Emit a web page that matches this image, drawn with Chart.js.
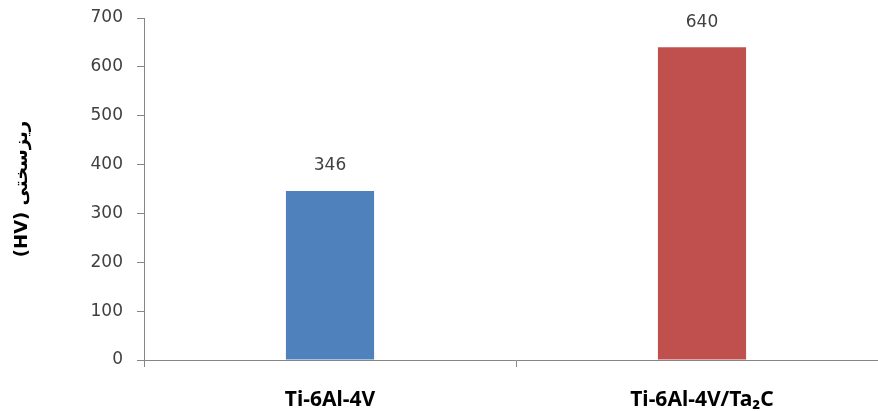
<!DOCTYPE html>
<html lang="fa">
<head>
  <meta charset="UTF-8">
  <title>Microhardness</title>
  <style>
    html, body { margin: 0; padding: 0; background: #fff; overflow: hidden; }
    #wrap { width: 888px; height: 411px; direction: ltr; }
  </style>
  <script src="https://cdn.jsdelivr.net/npm/chart.js"></script>
</head>
<body>
  <div id="wrap"><canvas id="hardnessChart"></canvas></div>
  <script>
    // data
    const categories = ['Ti-6Al-4V', 'Ti-6Al-4V/Ta\u2082C'];
    const hardness = [346, 640];
    const barColors = ['#4F81BD', '#C0504D'];
    const yTicks = [0, 100, 200, 300, 400, 500, 600, 700];
    const yTitle = '(HV) ریزسختی';

    // values above the bars
    const valueLabels = {
      id: 'valueLabels',
      afterDatasetsDraw(chart) {
        const ctx = chart.ctx;
        const meta = chart.getDatasetMeta(0);
        ctx.save();
        ctx.font = '17px "DejaVu Sans", sans-serif';
        ctx.fillStyle = '#404040';
        ctx.textAlign = 'center';
        ctx.textBaseline = 'middle';
        meta.data.forEach((bar, i) => {
          ctx.fillText(hardness[i], bar.x, bar.y - 25);
        });
        ctx.restore();
      }
    };

    new Chart(document.getElementById('hardnessChart'), {
      type: 'bar',
      data: {
        labels: categories,
        datasets: [{
          data: hardness,
          backgroundColor: barColors,
          borderWidth: 0,
          barPercentage: 0.237,
          categoryPercentage: 1.0
        }]
      },
      options: {
        responsive: true,
        maintainAspectRatio: false,
        animation: false,
        layout: { padding: { top: 18, right: 0, left: 0, bottom: 0 } },
        plugins: {
          legend: { display: false },
          tooltip: { enabled: false }
        },
        scales: {
          x: {
            grid: {
              display: true,
              offset: true,
              drawOnChartArea: false,
              color: '#868686',
              tickLength: 7
            },
            border: { color: '#868686', width: 1 },
            ticks: {
              color: '#000',
              padding: 20,
              font: { family: '"Noto Sans", sans-serif', size: 21, weight: 'bold' }
            },
            afterFit(scale) { scale.height = 51; }
          },
          y: {
            min: 0,
            max: 700,
            afterBuildTicks(scale) { scale.ticks = yTicks.map(v => ({ value: v })); },
            grid: {
              drawOnChartArea: false,
              color: '#868686',
              tickLength: 7
            },
            border: { color: '#868686', width: 1 },
            ticks: {
              color: '#404040',
              padding: 14,
              font: { family: '"DejaVu Sans", sans-serif', size: 17 }
            },
            title: {
              display: true,
              text: yTitle,
              color: '#000',
              padding: { top: 12, bottom: 0 },
              font: { family: '"DejaVu Sans", sans-serif', size: 18, weight: 'bold' }
            },
            afterFit(scale) {
              scale.width = 144;
              scale.paddingTop = 0;
              scale.paddingBottom = 0;
            }
          }
        }
      },
      plugins: [valueLabels]
    });
  </script>
</body>
</html>
